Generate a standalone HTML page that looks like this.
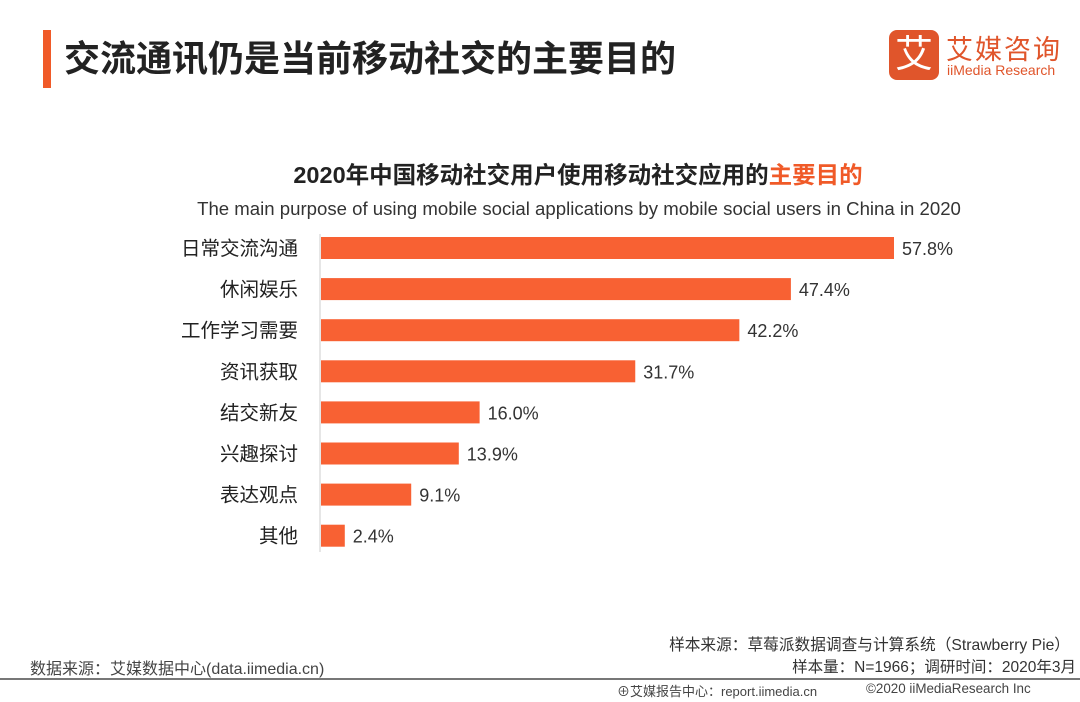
<!DOCTYPE html>
<html><head><meta charset="utf-8"><style>
body{margin:0;width:1080px;height:702px;background:#fff;position:relative;overflow:hidden;font-family:"Liberation Sans","Noto Sans CJK SC",sans-serif;color:#222}
.a{position:absolute;white-space:nowrap}
</style></head><body>
<div class="a" style="left:43px;top:30px;width:8px;height:58px;background:#f05a28"></div>
<div class="a" style="left:64px;top:30px;font-size:36px;font-weight:bold;color:#222">交流通讯仍是当前移动社交的主要目的</div>
<div class="a" style="left:889px;top:30px;width:50px;height:50px;background:#e0552b;border-radius:8px;color:#fff;font-size:38px;text-align:center;line-height:50px">艾</div>
<div class="a" style="left:946px;top:28px;font-size:27px;color:#e0552b;letter-spacing:2px">艾媒咨询</div>
<div class="a" style="left:947px;top:62px;font-size:14px;color:#e0552b">iiMedia Research</div>
<div class="a" style="left:0;width:1156px;text-align:center;top:156px;font-size:23.5px;font-weight:bold">2020年中国移动社交用户使用移动社交应用的<span style="color:#f05a28">主要目的</span></div>
<div class="a" style="left:0;width:1158px;text-align:center;top:198px;font-size:18.6px;color:#333">The main purpose of using mobile social applications by mobile social users in China in 2020</div>
<svg class="a" style="left:0;top:0" width="1080" height="702" id="ch"></svg>
<div class="a" style="right:10px;top:632px;font-size:15.7px;color:#333">样本来源：草莓派数据调查与计算系统（Strawberry Pie）</div>
<div class="a" style="right:4px;top:655px;font-size:15.5px;color:#333">样本量：N=1966；调研时间：2020年3月</div>
<div class="a" style="left:30px;top:655px;font-size:16px;color:#444">数据来源：艾媒数据中心(data.iimedia.cn)</div>
<div class="a" style="left:0;top:678px;width:1080px;height:2px;background:#777"></div>
<div class="a" style="left:617px;top:681px;font-size:13px;color:#444">⊕艾媒报告中心：report.iimedia.cn</div>
<div class="a" style="left:866px;top:681px;font-size:13.4px;color:#444">©2020 iiMediaResearch Inc</div>
<script>
const categories=["日常交流沟通","休闲娱乐","工作学习需要","资讯获取","结交新友","兴趣探讨","表达观点","其他"];
const values=[57.8,47.4,42.2,31.7,16.0,13.9,9.1,2.4];
const svg=document.getElementById('ch');const NS='http://www.w3.org/2000/svg';
const x0=321,k=573/57.8,yTop=248,step=41.1,bh=22;
const xs=v=>x0+v*k, ys=i=>yTop+i*step;
function mk(t,a){const e=document.createElementNS(NS,t);for(const q in a)e.setAttribute(q,a[q]);svg.appendChild(e);return e;}
const ax=mk('line',{x1:320,x2:320,y1:234,y2:552,stroke:'#ccc'});


categories.forEach((c,i)=>{
 const y=ys(i);
 const r=mk('rect',{x:x0,y:y-bh/2,width:xs(values[i])-x0,height:bh,fill:'#f86133'});
 
 
 const l=mk('text',{x:298,y:y+7,'text-anchor':'end','font-size':19.5,fill:'#222'});l.textContent=c;
 
 
 const v=mk('text',{x:xs(values[i])+8,y:y+7,'font-size':18,fill:'#333'});v.textContent=values[i].toFixed(1)+'%';
 
 
});
</script>
</body></html>
